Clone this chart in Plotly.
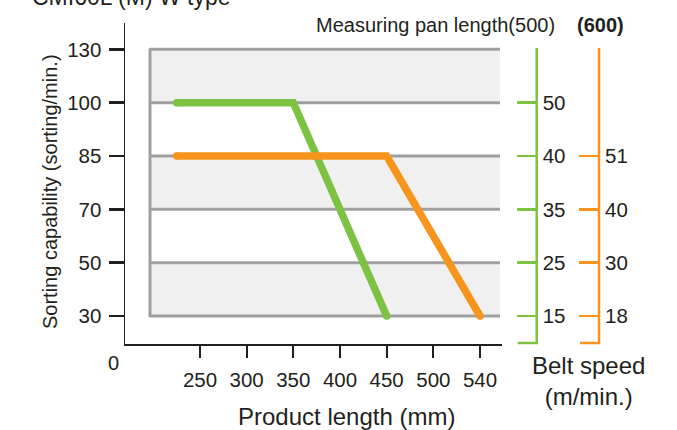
import numpy as np
import plotly.graph_objects as go

# ---------------- data ----------------
x_tick_mm = [250, 300, 350, 400, 450, 500, 540]
y_tick_cap = [30, 50, 70, 85, 100, 130]

green_x_mm = [225, 350, 450]      # measuring pan length 500
green_y_cap = [100, 100, 30]
orange_x_mm = [225, 450, 540]     # measuring pan length 600
orange_y_cap = [85, 85, 30]

green_speed_cap = [30, 50, 70, 85, 100]
green_speed = ["15", "25", "35", "40", "50"]
orange_speed_cap = [30, 50, 70, 85]
orange_speed = ["18", "30", "40", "51"]

GREEN = "#7dc242"
ORANGE = "#f7941d"
GRID = "#a0a0a0"
BAND = "#f0f0f0"
TXT = "#231f20"
FONT = "Liberation Sans, Arial, sans-serif"

# schematic (non-linear) scales: each tick is one unit apart
x_idx = list(range(len(x_tick_mm)))
y_idx = list(range(len(y_tick_cap)))


def mm2ix(v):
    v = np.asarray(v, dtype=float)
    out = np.interp(v, x_tick_mm, x_idx)
    lo = v < x_tick_mm[0]
    out[lo] = (v[lo] - x_tick_mm[0]) / (x_tick_mm[1] - x_tick_mm[0])
    return out


def cap2iy(v):
    return np.interp(np.asarray(v, dtype=float), y_tick_cap, y_idx)


# ---------------- geometry (pixels) ----------------
W, H = 677, 430
L, R, T, B = 125, 502, 23, 344
MR = 10
PW = W - L - MR
PH = B - T
X0PX, XSTEP = 200.0, 46.667   # pixel of first x tick, spacing
Y0PX, YSTEP = 316.0, 53.33


def px2ix(px):
    return (px - X0PX) / XSTEP


def py2iy(py):
    return (Y0PX - py) / YSTEP


def pxp(px):
    return (px - L) / PW


def pyp(py):
    return (B - py) / PH


fig = go.Figure()

for xs, ys, col in [(green_x_mm, green_y_cap, GREEN), (orange_x_mm, orange_y_cap, ORANGE)]:
    fig.add_trace(go.Scatter(
        x=mm2ix(xs), y=cap2iy(ys), mode="lines",
        line=dict(color=col, width=7.5), hoverinfo="skip", showlegend=False))
    fig.add_trace(go.Scatter(
        x=mm2ix([xs[0], xs[-1]]), y=cap2iy([ys[0], ys[-1]]), mode="markers",
        marker=dict(color=col, size=7.5, line=dict(width=0)),
        hoverinfo="skip", showlegend=False))

# invisible traces so the belt-speed axes get drawn
for yax, caps in [("y2", green_speed_cap), ("y3", orange_speed_cap)]:
    fig.add_trace(go.Scatter(
        x=mm2ix([x_tick_mm[0]] * len(caps)), y=cap2iy(caps), yaxis=yax, mode="markers",
        marker=dict(size=1, opacity=0), hoverinfo="skip", showlegend=False))

shapes = []
bx0, bx1 = px2ix(150), px2ix(500)
ny = len(y_tick_cap)
for j in range(0, ny - 1, 2):
    shapes.append(dict(type="rect", xref="x", yref="y", x0=bx0, x1=bx1, y0=j, y1=j + 1,
                       fillcolor=BAND, line=dict(width=0), layer="below"))
for j in range(ny):
    shapes.append(dict(type="line", xref="x", yref="y", x0=bx0, x1=bx1, y0=j, y1=j,
                       line=dict(color=GRID, width=3), layer="below"))
shapes.append(dict(type="line", xref="x", yref="y", x0=bx0, x1=bx0, y0=-0.02, y1=ny - 1 + 0.02,
                   line=dict(color=GRID, width=3), layer="below"))

# right-hand axis lines with bottom hook
for axpx, col in [(536.7, GREEN), (599.0, ORANGE)]:
    shapes.append(dict(type="path", xref="paper", yref="paper",
                       path=f"M {pxp(axpx - 19)},{pyp(343)} L {pxp(axpx)},{pyp(343)} L {pxp(axpx)},{pyp(48)}",
                       line=dict(color=col, width=2.5)))

annotations = [
    dict(text="CMI60L (M) W type", x=pxp(131.5), y=pyp(-3), xref="paper", yref="paper",
         showarrow=False, font=dict(size=23, color=TXT, family=FONT), xanchor="center", yanchor="middle"),
    dict(text="Measuring pan length(500)", x=pxp(435), y=pyp(25), xref="paper", yref="paper",
         showarrow=False, font=dict(size=20, color=TXT, family=FONT), xanchor="center", yanchor="middle"),
    dict(text="<b>(600)</b>", x=pxp(600), y=pyp(25), xref="paper", yref="paper",
         showarrow=False, font=dict(size=20, color=TXT, family=FONT), xanchor="center", yanchor="middle"),
    dict(text="0", x=pxp(113), y=pyp(363), xref="paper", yref="paper",
         showarrow=False, font=dict(size=20, color=TXT, family=FONT), xanchor="center", yanchor="middle"),
    dict(text="Sorting capability (sorting/min.)", x=pxp(50), y=pyp(192), xref="paper", yref="paper",
         textangle=-90, showarrow=False, font=dict(size=20, color=TXT, family=FONT),
         xanchor="center", yanchor="middle"),
    dict(text="Product length (mm)", x=pxp(346.5), y=pyp(416), xref="paper", yref="paper",
         showarrow=False, font=dict(size=24, color=TXT, family=FONT), xanchor="center", yanchor="middle"),
    dict(text="Belt speed<br>(m/min.)", x=pxp(588), y=pyp(381), xref="paper", yref="paper",
         showarrow=False, font=dict(size=24, color=TXT, family=FONT), xanchor="center", yanchor="middle"),
]

yr = [py2iy(B), py2iy(T)]
xr = [px2ix(L), px2ix(R)]

fig.update_layout(
    width=W, height=H,
    margin=dict(l=L, r=MR, t=T, b=H - B, pad=0),
    paper_bgcolor="white", plot_bgcolor="rgba(0,0,0,0)",
    font=dict(family=FONT, color=TXT, size=20),
    shapes=shapes, annotations=annotations, showlegend=False,
    xaxis=dict(domain=[0, (R - L) / PW], range=xr, tickvals=x_idx, ticktext=[str(v) for v in x_tick_mm],
               showgrid=False, zeroline=False, showline=True, linecolor=TXT, linewidth=1.5,
               ticks="outside", ticklen=12, tickwidth=2, tickcolor=TXT, ticklabelstandoff=5,
               tickfont=dict(size=20.5, color=TXT), fixedrange=True),
    yaxis=dict(range=yr, tickvals=y_idx, ticktext=[str(v) for v in y_tick_cap],
               showgrid=False, zeroline=False, showline=True, linecolor=TXT, linewidth=1.5,
               ticks="outside", ticklen=15, tickwidth=2.5, tickcolor=TXT, ticklabelstandoff=3,
               tickfont=dict(size=20.5, color=TXT), fixedrange=True),
    yaxis2=dict(overlaying="y", anchor="free", position=pxp(536.7), side="right", range=yr,
                tickvals=list(cap2iy(green_speed_cap)), ticktext=green_speed,
                showgrid=False, zeroline=False, showline=False,
                ticks="inside", ticklen=20, tickwidth=2.7, tickcolor=GREEN, ticklabelstandoff=5,
                tickfont=dict(size=20.5, color=TXT), fixedrange=True),
    yaxis3=dict(overlaying="y", anchor="free", position=pxp(599.0), side="right", range=yr,
                tickvals=list(cap2iy(orange_speed_cap)), ticktext=orange_speed,
                showgrid=False, zeroline=False, showline=False,
                ticks="inside", ticklen=20, tickwidth=2.7, tickcolor=ORANGE, ticklabelstandoff=5,
                tickfont=dict(size=20.5, color=TXT), fixedrange=True),
)

fig.write_html("out.html", config={"displayModeBar": False, "staticPlot": True},
               post_script="document.body.style.margin='0';document.body.style.overflow='hidden';")
